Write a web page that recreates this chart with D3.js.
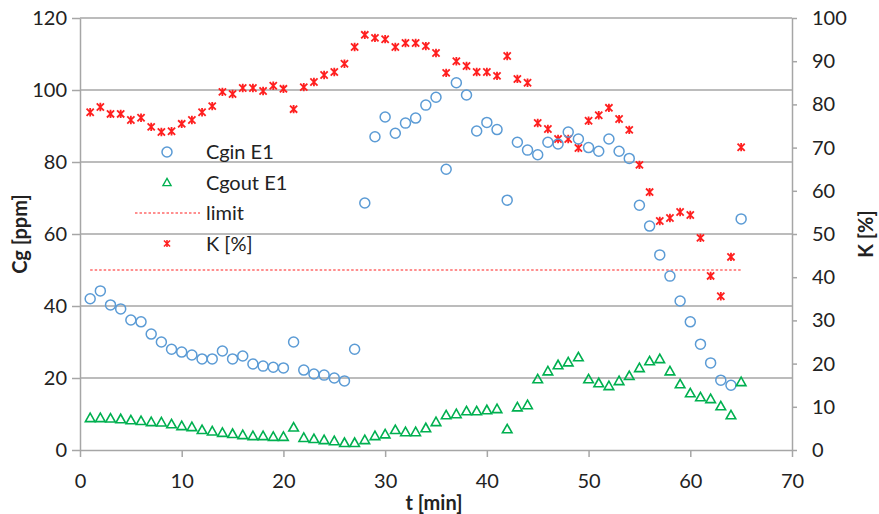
<!DOCTYPE html>
<html>
<head>
<meta charset="utf-8">
<script src="https://cdn.jsdelivr.net/npm/d3@7"></script>
<style>
  body { margin: 0; background: #fff; }
  svg text { font-family: Lato, "Open Sans", sans-serif; fill: #222; }
</style>
</head>
<body>
<div id="chart"></div>
<script>
// measurement minutes 1..65
const minutes = [1,2,3,4,5,6,7,8,9,10,11,12,13,14,15,16,17,18,19,20,21,22,23,24,25,26,27,28,29,30,31,32,33,34,35,36,37,38,39,40,41,42,43,44,45,46,47,48,49,50,51,52,53,54,55,56,57,58,59,60,61,62,63,64,65];
const cgin = [42,44.2,40.3,39.2,36.1,35.6,32.2,30,28,27.2,26.4,25.3,25.3,27.5,25.3,26.1,23.9,23.3,23,22.8,30,22.2,21.1,20.8,20,19.2,28,68.6,87,92.5,88,90.8,92.2,95.8,98,78,102,98.6,88.6,91,89,69.4,85.5,83.3,82,85.5,85,88.3,86.4,84,83,86.4,83,81,68,62.2,54.2,48.3,41.4,35.6,29.4,24.2,19.4,18,64.2];
const cgout = [8.9,8.9,8.8,8.6,8.3,8.1,7.8,7.7,7.2,6.7,6.4,5.6,5.2,4.8,4.5,4.2,3.9,3.9,3.7,3.7,6.3,3.4,3.1,2.8,2.5,2,2,2.8,3.9,4.4,5.6,5,5,6.1,7.8,9.7,10,10.8,10.8,11.1,11.4,5.8,11.9,12.5,19.7,21.9,23.6,24.4,25.8,19.7,18.6,17.8,19.2,20.6,22.8,24.7,25.3,21.9,18.3,15.8,14.7,14.2,12.2,9.7,18.9];
const kPct = [78.2,79.4,77.8,77.8,76.4,76.9,74.8,73.6,73.8,75.5,76.4,78.2,79.6,82.9,82.4,83.8,83.8,83.1,84.3,83.6,78.9,84,85.2,86.8,87.5,89.4,93.3,96.1,95.4,95.1,93.3,94.2,94.2,93.5,91.9,87.3,90,88.9,87.5,87.5,86.6,91.2,85.9,85,75.7,74.3,72,72,69.9,76.2,77.5,79.2,76.6,74.1,66,59.7,53,53.7,55.1,54.4,49.1,40.3,35.6,44.7,70.1];
const limitValue = 50;
const limitSpan = [1, 65];

const xTicks = [0,10,20,30,40,50,60,70];
const cgTicks = [0,20,40,60,80,100,120];
const kTicks = [0,10,20,30,40,50,60,70,80,90,100];
const legendItems = ['Cgin E1', 'Cgout E1', 'limit', 'K [%]'];

const width = 879, height = 514;
const margin = {top: 18, right: 87, bottom: 64, left: 80};
const innerW = width - margin.left - margin.right;
const innerH = height - margin.top - margin.bottom;

const blue = '#5B9BD5', green = '#00B050', red = '#FF1F1F', grid = '#A6A6A6';

const svg = d3.select('#chart').append('svg')
  .attr('width', width)
  .attr('height', height);

const g = svg.append('g')
  .attr('transform', 'translate(' + margin.left + ',' + margin.top + ')');

const x = d3.scaleLinear().domain([0, 70]).range([0, innerW]);
const yCg = d3.scaleLinear().domain([0, 120]).range([innerH, 0]);
const yK = d3.scaleLinear().domain([0, 100]).range([innerH, 0]);

// gridlines
g.append('g')
  .selectAll('line')
  .data(cgTicks.filter(d => d > 0))
  .enter().append('line')
  .attr('x1', 0).attr('x2', innerW)
  .attr('y1', d => yCg(d)).attr('y2', d => yCg(d))
  .attr('stroke', grid).attr('stroke-width', 1.5);

// axes
const styleAxis = (sel) => {
  sel.select('.domain').attr('stroke', grid).attr('stroke-width', 1.5);
  sel.selectAll('.tick line').attr('stroke', grid).attr('stroke-width', 1.5);
  sel.selectAll('.tick text').attr('font-size', 20).attr('fill', '#222');
};

g.append('g')
  .attr('transform', 'translate(0,' + innerH + ')')
  .call(d3.axisBottom(x).tickValues(xTicks).tickSize(7).tickPadding(17).tickSizeOuter(0))
  .call(styleAxis);

g.append('g')
  .call(d3.axisLeft(yCg).tickValues(cgTicks).tickSize(8).tickPadding(5).tickSizeOuter(0))
  .call(styleAxis);

g.append('g')
  .attr('transform', 'translate(' + innerW + ',0)')
  .call(d3.axisRight(yK).tickValues(kTicks).tickSize(5).tickPadding(15).tickSizeOuter(0))
  .call(styleAxis);

// axis titles
svg.append('text')
  .attr('transform', 'translate(27,' + (margin.top + innerH / 2) + ') rotate(-90)')
  .attr('text-anchor', 'middle')
  .attr('font-size', 20).attr('font-weight', 'bold')
  .text('Cg [ppm]');

svg.append('text')
  .attr('transform', 'translate(873,' + (margin.top + innerH / 2) + ') rotate(-90)')
  .attr('text-anchor', 'middle')
  .attr('font-size', 20).attr('font-weight', 'bold')
  .text('K [%]');

svg.append('text')
  .attr('x', 434)
  .attr('y', 510)
  .attr('text-anchor', 'middle')
  .attr('font-size', 20).attr('font-weight', 'bold')
  .text('t [min]');

// limit line
g.append('line')
  .attr('x1', x(limitSpan[0])).attr('x2', x(limitSpan[1]))
  .attr('y1', yCg(limitValue)).attr('y2', yCg(limitValue))
  .attr('stroke', red).attr('stroke-width', 1.2)
  .attr('stroke-dasharray', '2.5,2');

// marker helpers
const triPath = 'M0,-4.8L4.8,3.7L-4.8,3.7Z';
const starPath = 'M-3.6,-3.6L3.6,3.6M-3.6,3.6L3.6,-3.6M0,-4.2L0,4.2';

function drawCircle(sel) {
  sel.attr('r', 5).attr('fill', 'none').attr('stroke', blue).attr('stroke-width', 1.5);
}
function drawTri(sel) {
  sel.attr('d', triPath).attr('fill', 'none').attr('stroke', green).attr('stroke-width', 1.6);
}
function drawStar(sel) {
  sel.attr('d', starPath).attr('fill', 'none').attr('stroke', red).attr('stroke-width', 1.8);
}

// series
g.append('g').selectAll('path')
  .data(minutes.map((t, i) => [t, kPct[i]]))
  .enter().append('path')
  .attr('transform', d => 'translate(' + x(d[0]) + ',' + yK(d[1]) + ')')
  .call(drawStar);

g.append('g').selectAll('circle')
  .data(minutes.map((t, i) => [t, cgin[i]]))
  .enter().append('circle')
  .attr('cx', d => x(d[0])).attr('cy', d => yCg(d[1]))
  .call(drawCircle);

g.append('g').selectAll('path')
  .data(minutes.map((t, i) => [t, cgout[i]]))
  .enter().append('path')
  .attr('transform', d => 'translate(' + x(d[0]) + ',' + yCg(d[1]) + ')')
  .call(drawTri);

// legend
const legend = svg.append('g').attr('transform', 'translate(167,152)');
legendItems.forEach((name, i) => {
  const row = legend.append('g').attr('transform', 'translate(0,' + (i * 30.5) + ')');
  if (i === 0) row.append('circle').attr('cx', 0).attr('cy', 0).call(drawCircle);
  if (i === 1) row.append('path').attr('transform', 'scale(0.85)').call(drawTri);
  if (i === 2) {
    row.append('line').attr('x1', -32).attr('x2', 33).attr('y1', 0).attr('y2', 0)
      .attr('stroke', red).attr('stroke-width', 1.2).attr('stroke-dasharray', '2.5,2');
  }
  if (i === 3) row.append('path').attr('transform', 'scale(0.85)').call(drawStar);
  row.append('text')
    .attr('x', 39).attr('y', 7)
    .attr('font-size', 20)
    .text(name);
});
</script>
</body>
</html>
